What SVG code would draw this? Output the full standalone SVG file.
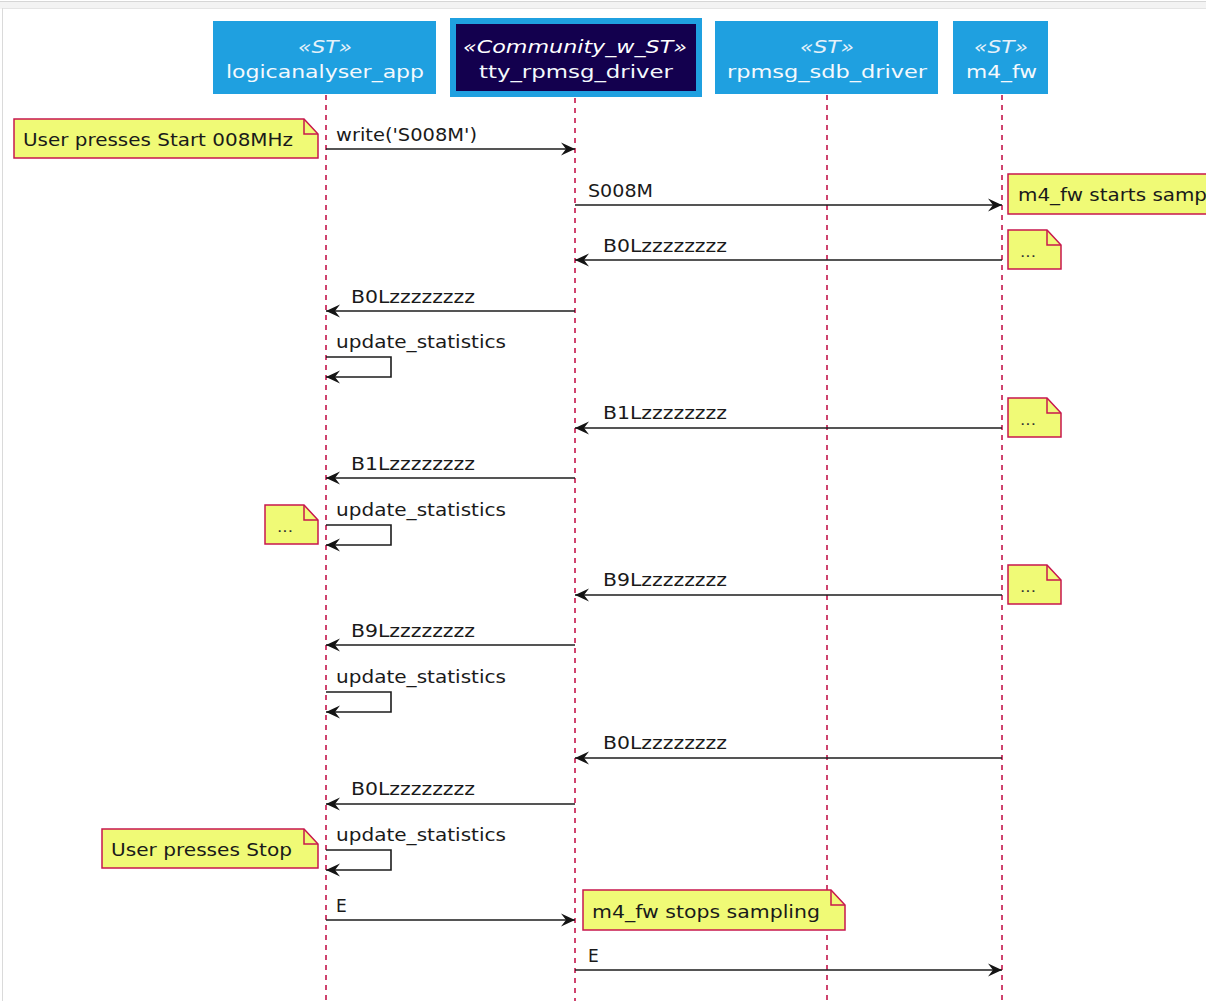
<svg xmlns="http://www.w3.org/2000/svg" width="1219" height="1001" viewBox="0 0 1219 1001">
<defs>
<style>
.txt{font-family:"DejaVu Sans","Liberation Sans",sans-serif;font-size:17px;fill:#1a1a1a}
.hdr{font-family:"DejaVu Sans","Liberation Sans",sans-serif;font-size:18.5px;fill:#f4f9fd}
.st{font-family:"DejaVu Sans","Liberation Sans",sans-serif;font-size:17.5px;font-style:italic;fill:#e4f1fa}
.dots{font-family:"DejaVu Sans","Liberation Sans",sans-serif;font-size:14px;fill:#333}
.life{stroke:#c0063f;stroke-width:1.5;stroke-dasharray:5,5;fill:none}
.msg{stroke:#1c1c1c;stroke-width:1.6;fill:none;marker-end:url(#arr)}
.note{fill:#f0fa76;stroke:#c8174e;stroke-width:1.5}
.fold{fill:none;stroke:#c8174e;stroke-width:1.5}
.box{fill:#1fa0e0}
</style>
<marker id="arr" markerUnits="userSpaceOnUse" viewBox="0 0 16 16" markerWidth="16" markerHeight="16" refX="15" refY="8" orient="auto">
<path d="M1,1.5 L15,8 L1,14.5 L6,8 Z" fill="#141414"/>
</marker>
<clipPath id="clip"><rect x="0" y="0" width="1206" height="1001"/></clipPath>
</defs>
<rect x="0" y="0" width="1219" height="1001" fill="#ffffff"/>
<rect x="0" y="1" width="1206" height="8" fill="#f3f3f3"/>
<line x1="0" y1="1.5" x2="1206" y2="1.5" stroke="#d6d6d6" stroke-width="1"/>
<line x1="3" y1="8.5" x2="1206" y2="8.5" stroke="#e4e4e4" stroke-width="1"/>
<line x1="2.5" y1="8" x2="2.5" y2="1001" stroke="#dadada" stroke-width="1"/>
<g clip-path="url(#clip)">
<g id="lifelines">
<line class="life" x1="326" y1="95" x2="326" y2="1001"/>
<line class="life" x1="575" y1="98" x2="575" y2="1001"/>
<line class="life" x1="827" y1="95" x2="827" y2="1001"/>
<line class="life" x1="1002" y1="95" x2="1002" y2="1001"/>
</g>
<g id="logicanalyser_app">
<rect class="box" x="213" y="21" width="223" height="73"/>
<text class="st" x="298" y="53" textLength="54" lengthAdjust="spacingAndGlyphs">«ST»</text>
<text class="hdr" x="226" y="78" textLength="198" lengthAdjust="spacingAndGlyphs">logicanalyser_app</text>
</g>
<g id="tty_rpmsg_driver">
<rect class="box" x="450" y="18" width="252" height="79"/>
<rect x="456" y="24" width="240" height="67" fill="#13004e"/>
<text class="st" x="463" y="53" textLength="224" lengthAdjust="spacingAndGlyphs" style="fill:#ffffff">«Community_w_ST»</text>
<text class="hdr" x="479" y="78" textLength="194" lengthAdjust="spacingAndGlyphs">tty_rpmsg_driver</text>
</g>
<g id="rpmsg_sdb_driver">
<rect class="box" x="715" y="21" width="223" height="73"/>
<text class="st" x="800" y="53" textLength="54" lengthAdjust="spacingAndGlyphs">«ST»</text>
<text class="hdr" x="727" y="78" textLength="200" lengthAdjust="spacingAndGlyphs">rpmsg_sdb_driver</text>
</g>
<g id="m4_fw">
<rect class="box" x="953" y="21" width="95" height="73"/>
<text class="st" x="974" y="53" textLength="54" lengthAdjust="spacingAndGlyphs">«ST»</text>
<text class="hdr" x="966" y="78" textLength="71" lengthAdjust="spacingAndGlyphs">m4_fw</text>
</g>
<g id="connectors">
<line class="msg" x1="326" y1="149" x2="575" y2="149"/>
<text class="txt" x="336" y="141" textLength="141" lengthAdjust="spacingAndGlyphs">write('S008M')</text>
<line class="msg" x1="575" y1="205" x2="1002" y2="205"/>
<text class="txt" x="588" y="197" textLength="65" lengthAdjust="spacingAndGlyphs">S008M</text>
<line class="msg" x1="1002" y1="260" x2="575" y2="260"/>
<text class="txt" x="603" y="252" textLength="124" lengthAdjust="spacingAndGlyphs">B0Lzzzzzzzz</text>
<line class="msg" x1="575" y1="311" x2="326" y2="311"/>
<text class="txt" x="351" y="303" textLength="124" lengthAdjust="spacingAndGlyphs">B0Lzzzzzzzz</text>
<path class="msg" d="M326,357 H391 V377 H326"/>
<text class="txt" x="336" y="348" textLength="170" lengthAdjust="spacingAndGlyphs">update_statistics</text>
<line class="msg" x1="1002" y1="428" x2="575" y2="428"/>
<text class="txt" x="603" y="419" textLength="124" lengthAdjust="spacingAndGlyphs">B1Lzzzzzzzz</text>
<line class="msg" x1="575" y1="478" x2="326" y2="478"/>
<text class="txt" x="351" y="470" textLength="124" lengthAdjust="spacingAndGlyphs">B1Lzzzzzzzz</text>
<path class="msg" d="M326,525 H391 V545 H326"/>
<text class="txt" x="336" y="516" textLength="170" lengthAdjust="spacingAndGlyphs">update_statistics</text>
<line class="msg" x1="1002" y1="595" x2="575" y2="595"/>
<text class="txt" x="603" y="586" textLength="124" lengthAdjust="spacingAndGlyphs">B9Lzzzzzzzz</text>
<line class="msg" x1="575" y1="645" x2="326" y2="645"/>
<text class="txt" x="351" y="637" textLength="124" lengthAdjust="spacingAndGlyphs">B9Lzzzzzzzz</text>
<path class="msg" d="M326,692 H391 V712 H326"/>
<text class="txt" x="336" y="683" textLength="170" lengthAdjust="spacingAndGlyphs">update_statistics</text>
<line class="msg" x1="1002" y1="758" x2="575" y2="758"/>
<text class="txt" x="603" y="749" textLength="124" lengthAdjust="spacingAndGlyphs">B0Lzzzzzzzz</text>
<line class="msg" x1="575" y1="804" x2="326" y2="804"/>
<text class="txt" x="351" y="795" textLength="124" lengthAdjust="spacingAndGlyphs">B0Lzzzzzzzz</text>
<path class="msg" d="M326,850 H391 V870 H326"/>
<text class="txt" x="336" y="841" textLength="170" lengthAdjust="spacingAndGlyphs">update_statistics</text>
<line class="msg" x1="326" y1="920" x2="575" y2="920"/>
<text class="txt" x="336" y="912">E</text>
<line class="msg" x1="575" y1="970" x2="1002" y2="970"/>
<text class="txt" x="588" y="962">E</text>
</g>
<g id="note_start">
<path class="note" d="M14,119 H304 L318,134 V158 H14 Z"/>
<path class="fold" d="M304,119 V134 H318"/>
<text class="txt" x="23" y="146" textLength="270" lengthAdjust="spacingAndGlyphs">User presses Start 008MHz</text>
</g>
<g id="note_m4_starts">
<path class="note" d="M1008,174 H1240 V214 H1008 Z"/>
<text class="txt" x="1018" y="201" textLength="189" lengthAdjust="spacingAndGlyphs">m4_fw starts samp</text>
</g>
<g id="note_dots1">
<path class="note" d="M1008,230 H1047 L1061,245 V269 H1008 Z"/>
<path class="fold" d="M1047,230 V245 H1061"/>
<text class="dots" x="1020" y="257" textLength="16" lengthAdjust="spacingAndGlyphs">...</text>
</g>
<g id="note_dots2">
<path class="note" d="M1008,398 H1047 L1061,413 V437 H1008 Z"/>
<path class="fold" d="M1047,398 V413 H1061"/>
<text class="dots" x="1020" y="425" textLength="16" lengthAdjust="spacingAndGlyphs">...</text>
</g>
<g id="note_dots3">
<path class="note" d="M265,505 H304 L318,520 V544 H265 Z"/>
<path class="fold" d="M304,505 V520 H318"/>
<text class="dots" x="277" y="532" textLength="16" lengthAdjust="spacingAndGlyphs">...</text>
</g>
<g id="note_dots4">
<path class="note" d="M1008,565 H1047 L1061,580 V604 H1008 Z"/>
<path class="fold" d="M1047,565 V580 H1061"/>
<text class="dots" x="1020" y="592" textLength="16" lengthAdjust="spacingAndGlyphs">...</text>
</g>
<g id="note_stop">
<path class="note" d="M102,829 H304 L318,844 V868 H102 Z"/>
<path class="fold" d="M304,829 V844 H318"/>
<text class="txt" x="111" y="856" textLength="181" lengthAdjust="spacingAndGlyphs">User presses Stop</text>
</g>
<g id="note_m4_stops">
<path class="note" d="M583,890 H831 L845,905 V930 H583 Z"/>
<path class="fold" d="M831,890 V905 H845"/>
<text class="txt" x="592" y="918" textLength="228" lengthAdjust="spacingAndGlyphs">m4_fw stops sampling</text>
</g>
</g>
</svg>
